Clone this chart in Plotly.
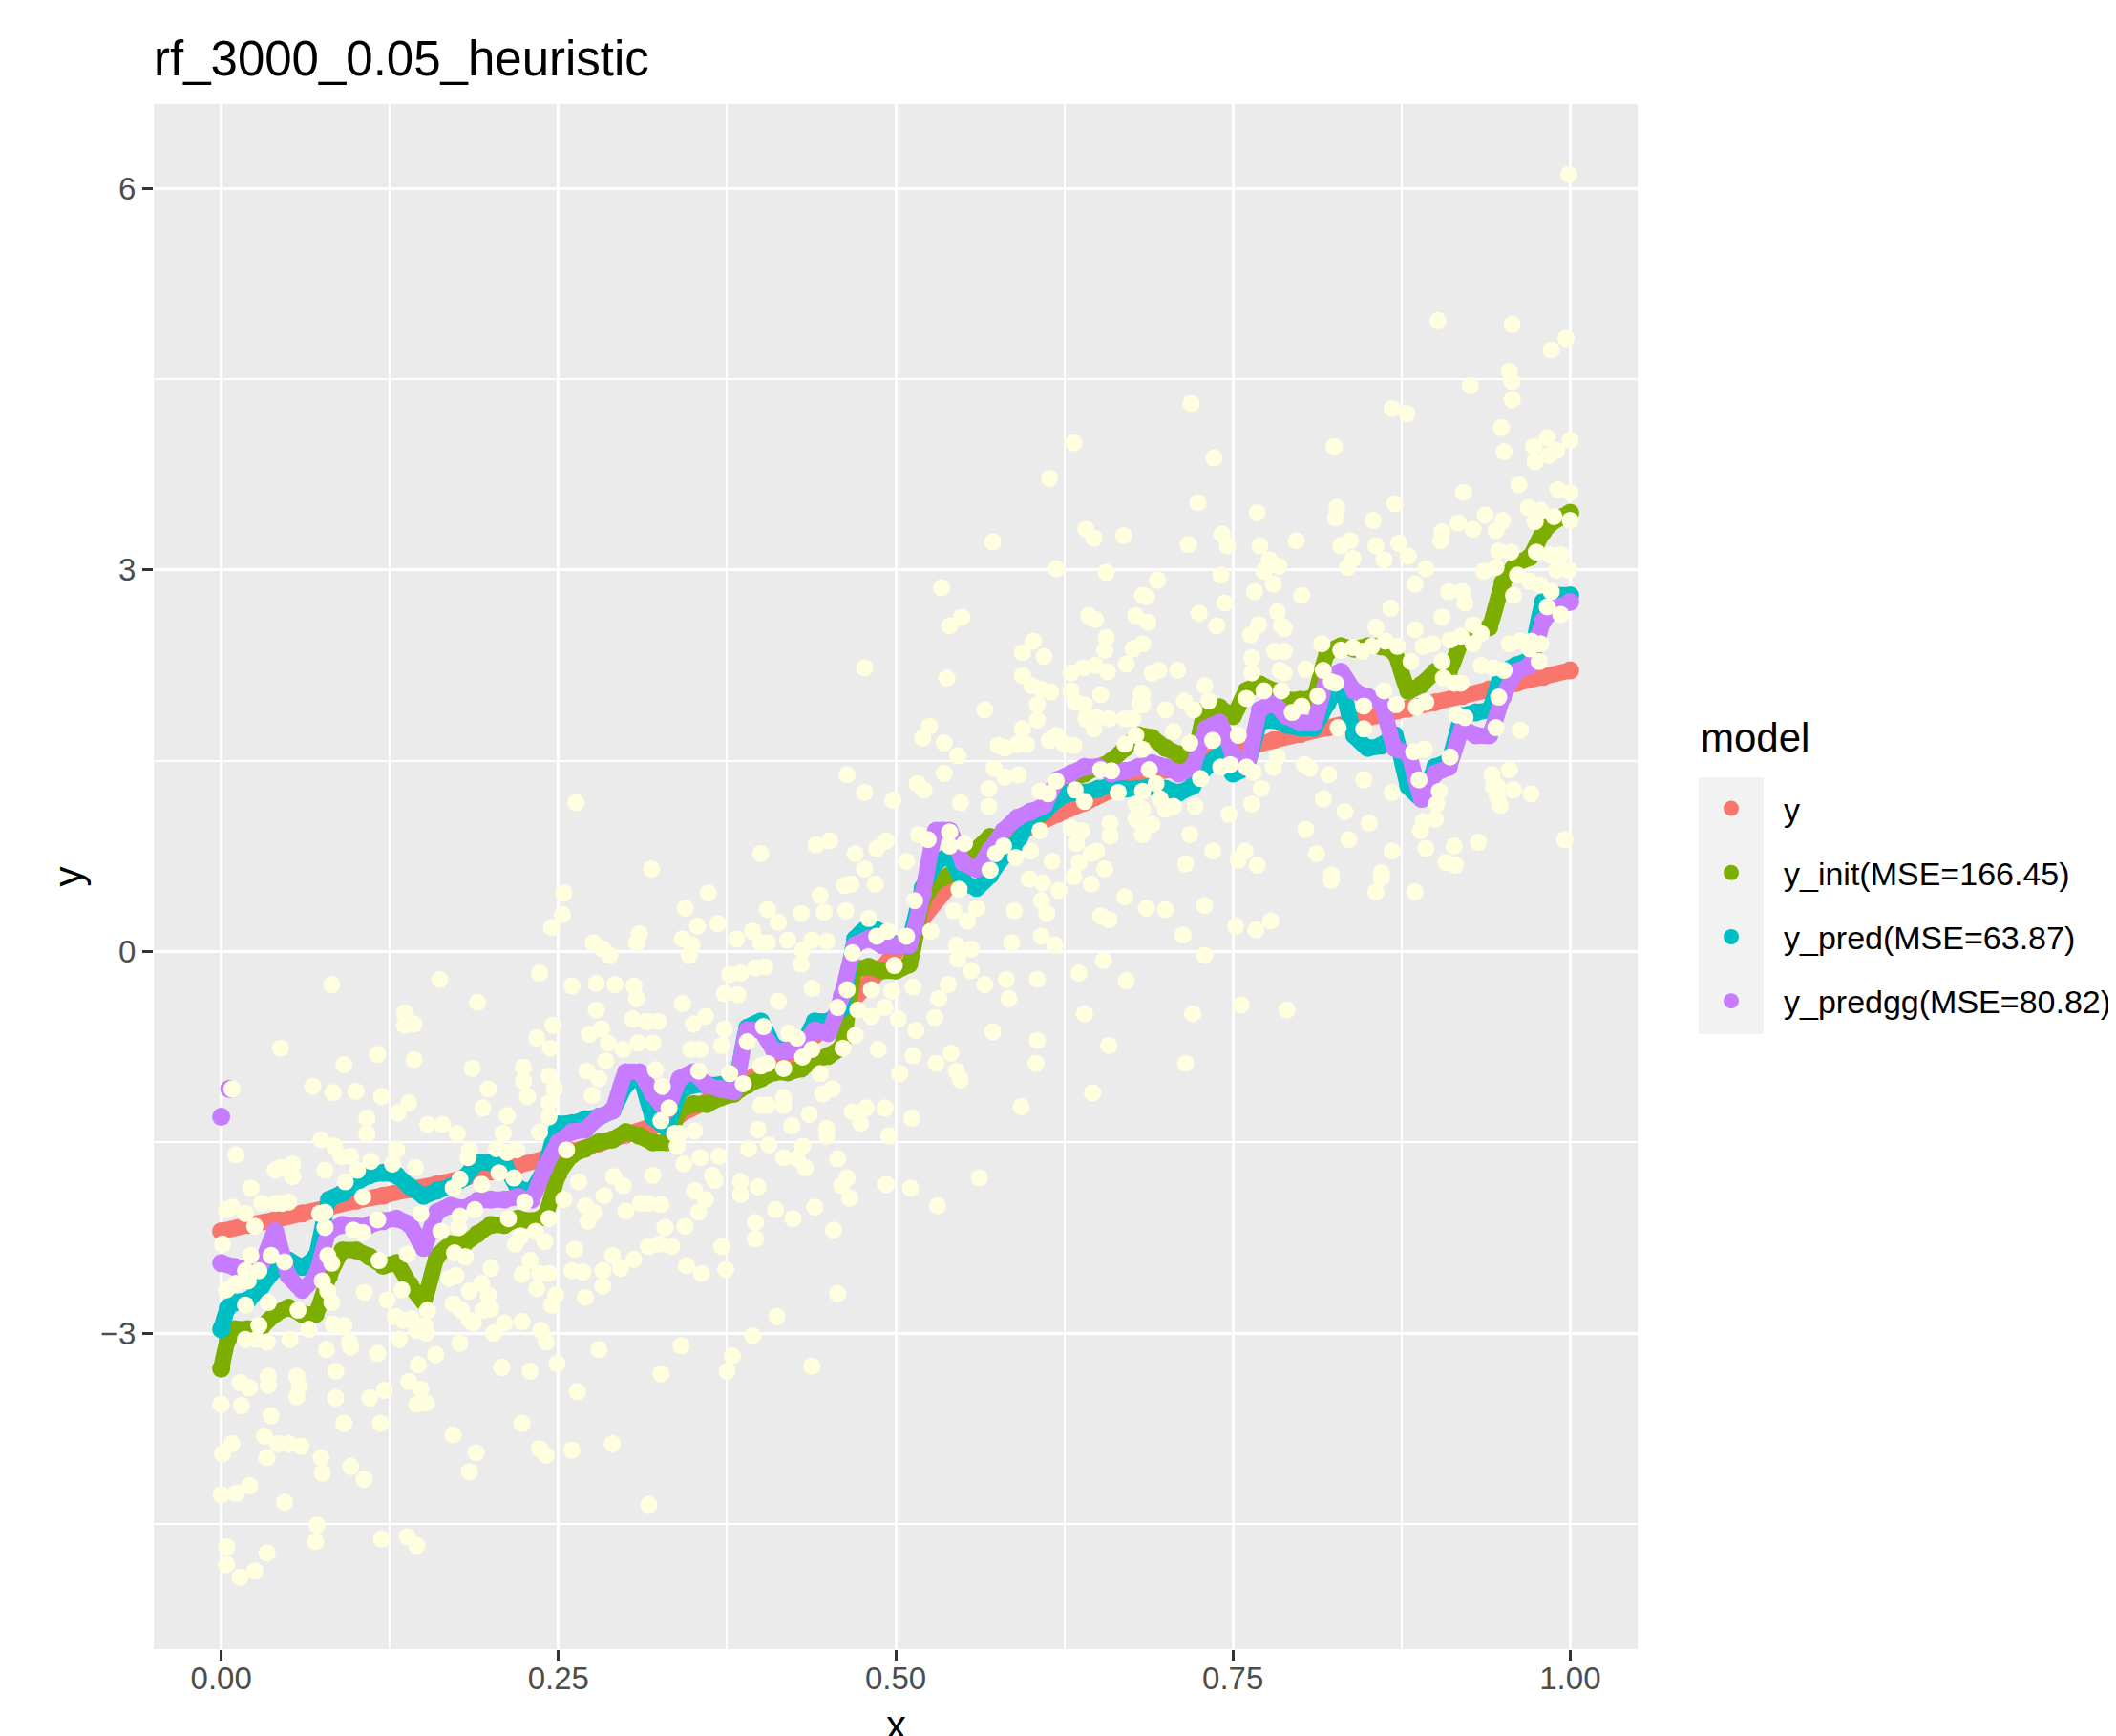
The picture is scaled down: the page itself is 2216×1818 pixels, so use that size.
import plotly.graph_objects as go

# ---------------- text ----------------
title_text = "rf_3000_0.05_heuristic"
legend_title = "model"
x_title = "x"
y_title = "y"
series_names = ["y", "y_init(MSE=166.45)", "y_pred(MSE=63.87)", "y_predgg(MSE=80.82)"]
series_colors = ["#F8766D", "#7CAE00", "#00BFC4", "#C77CFF"]
obs_color = "#FFFFE0"

x_ticks = [0.0, 0.25, 0.5, 0.75, 1.0]
x_tick_labels = ["0.00", "0.25", "0.50", "0.75", "1.00"]
x_minor = [0.125, 0.375, 0.625, 0.875]
y_ticks = [-3, 0, 3, 6]
y_tick_labels = ["\u22123", "0", "3", "6"]
y_minor = [-4.5, -1.5, 1.5, 4.5]

# ---------------- true function y ----------------
truth_x = [0.00, 0.02, 0.04, 0.06, 0.08, 0.10, 0.12, 0.14, 0.16, 0.18,
           0.20, 0.22, 0.24, 0.26, 0.28, 0.30, 0.32, 0.34, 0.36, 0.38,
           0.40, 0.42, 0.44, 0.46, 0.48, 0.50, 0.52, 0.54, 0.56, 0.58,
           0.60, 0.62, 0.64, 0.66, 0.68, 0.70, 0.72, 0.74, 0.76, 0.78,
           0.80, 0.82, 0.84, 0.86, 0.88, 0.90, 0.92, 0.94, 0.96, 0.98, 1.00]
truth_y = [-2.20, -2.15, -2.11, -2.06, -2.01, -1.96, -1.92, -1.87, -1.83, -1.78,
           -1.73, -1.68, -1.63, -1.57, -1.51, -1.44, -1.37, -1.28, -1.18, -1.07,
           -0.95, -0.82, -0.66, -0.47, -0.25, 0.00, 0.26, 0.52, 0.74, 0.88,
           0.98, 1.08, 1.17, 1.27, 1.36, 1.43, 1.49, 1.55, 1.60, 1.66,
           1.71, 1.76, 1.81, 1.86, 1.91, 1.96, 2.01, 2.06, 2.11, 2.16, 2.21]

# ---------------- common grid of predictions ----------------
grid_x = [0.00, 0.01, 0.02, 0.03, 0.04, 0.05, 0.06, 0.07, 0.08, 0.09,
          0.10, 0.11, 0.12, 0.13, 0.14, 0.15, 0.16, 0.17, 0.18, 0.19,
          0.20, 0.21, 0.22, 0.23, 0.24, 0.25, 0.26, 0.27, 0.28, 0.29,
          0.30, 0.31, 0.32, 0.33, 0.34, 0.35, 0.36, 0.37, 0.38, 0.39,
          0.40, 0.41, 0.42, 0.43, 0.44, 0.45, 0.46, 0.47, 0.48, 0.49,
          0.50, 0.51, 0.52, 0.53, 0.54, 0.55, 0.56, 0.57, 0.58, 0.59,
          0.60, 0.61, 0.62, 0.63, 0.64, 0.65, 0.66, 0.67, 0.68, 0.69,
          0.70, 0.71, 0.72, 0.73, 0.74, 0.75, 0.76, 0.77, 0.78, 0.79,
          0.80, 0.81, 0.82, 0.83, 0.84, 0.85, 0.86, 0.87, 0.88, 0.89,
          0.90, 0.91, 0.92, 0.93, 0.94, 0.95, 0.96, 0.97, 0.98, 0.99, 1.00]

# y_init: one extra point read near x = 0.005
init_extra_x = [0.005]
init_extra_y = [-3.05]
init_y = [-3.28, -2.97, -2.97, -2.95, -2.85, -2.80, -2.85, -2.85, -2.55, -2.35,
          -2.35, -2.40, -2.47, -2.45, -2.62, -2.75, -2.40, -2.30, -2.30, -2.22,
          -2.15, -2.15, -2.10, -2.12, -2.08, -1.75, -1.60, -1.55, -1.50, -1.48,
          -1.42, -1.45, -1.50, -1.50, -1.25, -1.20, -1.20, -1.15, -1.12, -1.05,
          -1.00, -0.95, -0.95, -0.92, -0.85, -0.82, -0.75, -0.15, -0.12, -0.15,
          -0.15, -0.10, 0.40, 0.55, 0.60, 0.62, 0.80, 0.90, 0.90, 0.95,
          1.00, 1.10, 1.20, 1.35, 1.40, 1.45, 1.50, 1.60, 1.70, 1.68,
          1.60, 1.55, 1.50, 1.90, 1.92, 1.85, 2.05, 2.10, 2.05, 1.98,
          1.98, 2.00, 2.35, 2.40, 2.38, 2.40, 2.40, 2.35, 2.05, 2.10,
          2.20, 2.20, 2.45, 2.50, 2.55, 2.90, 3.05, 3.10, 3.30, 3.40, 3.45]

pred_extra_x = [0.005]
pred_extra_y = [-2.80]
pred_y = [-2.97, -2.76, -2.74, -2.63, -2.50, -2.43, -2.48, -2.40, -1.95, -1.90,
          -1.82, -1.76, -1.74, -1.76, -1.85, -1.92, -1.88, -1.85, -1.78, -1.66,
          -1.66, -1.68, -1.86, -1.88, -1.70, -1.36, -1.35, -1.32, -1.30, -1.25,
          -1.05, -0.98, -1.30, -1.38, -1.10, -1.05, -1.05, -1.05, -1.08, -0.60,
          -0.55, -0.75, -0.78, -0.75, -0.55, -0.55, -0.45, 0.10, 0.20, 0.15,
          0.05, 0.10, 0.50, 0.70, 0.75, 0.55, 0.50, 0.60, 0.75, 0.85,
          1.05, 1.10, 1.20, 1.25, 1.25, 1.28, 1.30, 1.28, 1.28, 1.30,
          1.28, 1.25, 1.30, 1.45, 1.55, 1.40, 1.45, 1.80, 1.82, 1.78,
          1.76, 1.76, 1.95, 2.10, 1.70, 1.60, 1.62, 1.70, 1.30, 1.20,
          1.45, 1.50, 1.85, 1.88, 1.90, 2.20, 2.25, 2.30, 2.75, 2.80, 2.80]

# y_predgg: two isolated points near x = 0 (drawn apart from the band)
predgg_extra_x = [0.000, 0.006]
predgg_extra_y = [-1.30, -1.08]
predgg_y = [-2.45, -2.48, -2.49, -2.45, -2.20, -2.55, -2.66, -2.55, -2.20, -2.15,
            -2.16, -2.15, -2.12, -2.10, -2.15, -2.33, -2.05, -2.00, -2.02, -1.96,
            -1.95, -1.95, -1.93, -1.95, -1.70, -1.50, -1.42, -1.40, -1.30, -1.25,
            -0.95, -0.95, -1.12, -1.25, -1.00, -0.95, -1.05, -1.08, -1.10, -0.62,
            -0.62, -0.78, -0.78, -0.75, -0.62, -0.64, -0.35, 0.05, 0.10, 0.05,
            0.05, 0.05, 0.45, 0.95, 0.95, 0.70, 0.65, 0.80, 0.95, 1.05,
            1.10, 1.15, 1.35, 1.40, 1.45, 1.45, 1.40, 1.42, 1.45, 1.48,
            1.45, 1.40, 1.45, 1.75, 1.80, 1.55, 1.45, 1.90, 1.95, 1.85,
            1.80, 1.80, 2.15, 2.20, 2.05, 2.00, 1.95, 1.60, 1.55, 1.20,
            1.40, 1.45, 1.75, 1.70, 1.70, 2.00, 2.20, 2.25, 2.60, 2.70, 2.75]

# ---------------- observed data (x, y) ----------------
obs_left = [
    (0.254, 0.46), (0.253, 0.29), (0.245, 0.19), (0.310, 0.14), (0.308, 0.07), (0.276, 0.07),
    (0.283, 0.02), (0.288, -0.03), (0.082, -0.26), (0.162, -0.22), (0.236, -0.17), (0.190, -0.40),
    (0.136, -0.48), (0.136, -0.58), (0.143, -0.57), (0.260, -0.27), (0.278, -0.25), (0.292, -0.26),
    (0.306, -0.27), (0.308, -0.37), (0.278, -0.46), (0.246, -0.58), (0.234, -0.68), (0.244, -0.76),
    (0.273, -0.65), (0.282, -0.61), (0.287, -0.72), (0.298, -0.77), (0.305, -0.53), (0.315, -0.55),
    (0.309, -0.72), (0.044, -0.76), (0.116, -0.81), (0.143, -0.85), (0.091, -0.89), (0.186, -0.92),
    (0.224, -0.91), (0.224, -1.02), (0.227, -1.14), (0.243, -0.98), (0.247, -1.08), (0.243, -1.19),
    (0.243, -1.30), (0.271, -0.94), (0.280, -1.00), (0.285, -0.86), (0.068, -1.06), (0.083, -1.11),
    (0.100, -1.10), (0.119, -1.14), (0.198, -1.08), (0.194, -1.23), (0.212, -1.29), (0.275, -1.13),
    (0.108, -1.31), (0.108, -1.43), (0.131, -1.27), (0.139, -1.19), (0.153, -1.36), (0.164, -1.36),
    (0.175, -1.43), (0.209, -1.43), (0.236, -1.42), (0.074, -1.48), (0.011, -1.60), (0.008, -1.08),
    (0.040, -1.72), (0.044, -1.70), (0.053, -1.67), (0.053, -1.77), (0.077, -1.72), (0.084, -1.53),
    (0.089, -1.61), (0.096, -1.61), (0.101, -1.72), (0.111, -1.65), (0.127, -1.67), (0.130, -1.56),
    (0.092, -1.81), (0.144, -1.70), (0.022, -1.86), (0.183, -1.62), (0.184, -1.56), (0.204, -1.55),
    (0.212, -1.58), (0.219, -1.56), (0.206, -1.74), (0.217, -1.78), (0.256, -1.56), (0.265, -1.81),
    (0.291, -1.77), (0.298, -1.84), (0.254, -1.95), (0.270, -2.00), (0.276, -2.05), (0.272, -2.12),
    (0.284, -1.92), (0.300, -2.04), (0.311, -1.98), (0.262, -2.34), (0.290, -2.39), (0.296, -2.49),
    (0.306, -2.42), (0.317, -2.32), (0.260, -2.51), (0.268, -2.52), (0.283, -2.51), (0.270, -2.72),
    (0.283, -2.63), (0.223, -2.54), (0.234, -2.65), (0.229, -2.43), (0.236, -2.53), (0.243, -2.53),
    (0.248, -2.70), (0.245, -2.78), (0.200, -2.49), (0.173, -2.37), (0.181, -2.40), (0.169, -2.57),
    (0.174, -2.55), (0.184, -2.67), (0.193, -2.61), (0.198, -2.70), (0.172, -2.77), (0.178, -2.82),
    (0.184, -2.90), (0.194, -2.82), (0.200, -2.81), (0.187, -2.92), (0.202, -3.00), (0.210, -2.92),
    (0.223, -2.91), (0.237, -2.98), (0.241, -3.07), (0.249, -3.24), (0.208, -3.27), (0.229, -3.30),
    (0.223, -3.71), (0.236, -3.91), (0.241, -3.96), (0.260, -3.92), (0.290, -3.87), (0.264, -3.46),
    (0.280, -3.13), (0.317, -4.35), (0.172, -3.80), (0.189, -3.94), (0.184, -4.09), (0.177, -3.08),
    (0.159, -3.17), (0.151, -2.94), (0.152, -3.00), (0.153, -2.82), (0.146, -3.25), (0.148, -3.44),
    (0.145, -3.56), (0.152, -3.55), (0.139, -3.38), (0.138, -4.60), (0.145, -4.67), (0.119, -4.62),
    (0.118, -3.71), (0.121, -3.45), (0.110, -3.51), (0.116, -3.16), (0.132, -3.05), (0.123, -2.74),
    (0.129, -2.87), (0.135, -2.90), (0.141, -2.89), (0.145, -2.98), (0.134, -2.66), (0.117, -2.43),
    (0.106, -2.68), (0.096, -4.05), (0.106, -4.15), (0.091, -3.71), (0.085, -3.51), (0.085, -3.30),
    (0.095, -3.07), (0.096, -3.11), (0.078, -3.13), (0.091, -2.94), (0.082, -2.76), (0.074, -3.98),
    (0.075, -4.10), (0.071, -4.51), (0.070, -4.64), (0.065, -2.97), (0.057, -2.82), (0.051, -3.05),
    (0.056, -3.34), (0.058, -3.42), (0.056, -3.50), (0.059, -3.89), (0.050, -3.87), (0.042, -3.87),
    (0.047, -4.33), (0.037, -3.65), (0.034, -3.98), (0.032, -3.81), (0.035, -3.34), (0.035, -3.41),
    (0.034, -4.73), (0.025, -4.87), (0.014, -4.92), (0.004, -4.82), (0.004, -4.68), (0.021, -4.20),
    (0.011, -4.26), (0.000, -4.27), (0.008, -3.87), (0.001, -3.95), (0.000, -3.56), (0.015, -3.57),
    (0.014, -3.39), (0.021, -3.43), (0.026, -3.05), (0.018, -3.05), (0.034, -3.07), (0.028, -2.94),
    (0.035, -2.76), (0.018, -2.78), (0.004, -2.66), (0.011, -2.61), (0.020, -2.59), (0.022, -2.39),
    (0.018, -2.51), (0.028, -2.51), (0.037, -2.39), (0.047, -2.44), (0.001, -2.30), (0.004, -2.03),
    (0.008, -2.01), (0.018, -2.06), (0.025, -2.16), (0.030, -1.98), (0.040, -1.98), (0.045, -1.98),
    (0.050, -1.97), (0.073, -2.06), (0.077, -2.17), (0.077, -2.05), (0.079, -2.39), (0.082, -2.45),
    (0.075, -2.59), (0.079, -2.67), (0.083, -2.93), (0.098, -2.19), (0.105, -2.21), (0.105, -1.93),
    (0.116, -2.11), (0.138, -2.38), (0.148, -2.06), (0.163, -2.20), (0.177, -1.79), (0.172, -1.86),
    (0.177, -2.08), (0.176, -2.17), (0.188, -2.03), (0.193, -1.83), (0.213, -2.10), (0.225, -1.97),
    (0.218, -2.30), (0.222, -2.24), (0.233, -2.20), (0.240, -2.28), (0.243, -2.10), (0.263, 1.17),
]

obs_middle = [
    (0.361, 0.46), (0.344, 0.34), (0.353, 0.20), (0.368, 0.22), (0.342, 0.10), (0.349, 0.05),
    (0.347, -0.03), (0.405, 0.33), (0.413, 0.23), (0.430, 0.30), (0.447, 0.31), (0.444, 0.44),
    (0.463, 0.32), (0.467, 0.53), (0.462, 0.52), (0.485, 0.53), (0.394, 0.16), (0.382, 0.10),
    (0.400, 0.07), (0.405, 0.07), (0.420, 0.09), (0.431, 0.01), (0.438, 0.09), (0.449, 0.08),
    (0.430, -0.10), (0.396, -0.13), (0.403, -0.12), (0.377, -0.18), (0.385, -0.17), (0.383, -0.34),
    (0.373, -0.33), (0.438, -0.29), (0.413, -0.39), (0.342, -0.41), (0.359, -0.51), (0.350, -0.57),
    (0.324, -0.55), (0.317, -0.55), (0.373, -0.61), (0.371, -0.74), (0.348, -0.77), (0.355, -0.77),
    (0.320, -0.72), (0.322, -0.93), (0.327, -1.06), (0.354, -0.94), (0.377, -0.96), (0.390, -0.71),
    (0.402, -0.59), (0.421, -0.64), (0.427, -0.68), (0.417, -0.92), (0.431, -0.83), (0.438, -0.77),
    (0.400, -0.90), (0.405, -0.88), (0.387, -1.04), (0.400, -1.21), (0.405, -1.21), (0.398, -1.40),
    (0.417, -1.15), (0.417, -1.21), (0.423, -1.37), (0.436, -1.28), (0.444, -0.96), (0.446, -1.12),
    (0.453, -1.08), (0.461, -0.76), (0.457, -0.44), (0.464, -0.30), (0.470, -0.66), (0.468, -1.26),
    (0.478, -1.23), (0.474, -1.35), (0.492, -1.23), (0.512, -1.31), (0.495, -1.45), (0.449, -1.39),
    (0.449, -1.45), (0.457, -1.63), (0.464, -1.78), (0.460, -1.84), (0.466, -1.94), (0.493, -1.83),
    (0.511, -1.86), (0.531, -2.00), (0.562, -1.78), (0.454, -2.19), (0.440, -2.01), (0.424, -2.10),
    (0.411, -2.03), (0.396, -2.13), (0.396, -2.26), (0.371, -2.32), (0.374, -2.50), (0.356, -2.53),
    (0.345, -2.47), (0.344, -2.16), (0.354, -2.05), (0.359, -1.95), (0.351, -1.88), (0.364, -1.76),
    (0.366, -1.80), (0.385, -1.81), (0.385, -1.91), (0.398, -1.85), (0.406, -1.52), (0.391, -1.55),
    (0.417, -1.62), (0.427, -1.63), (0.433, -1.70), (0.431, -1.53), (0.326, -1.99), (0.320, -1.76),
    (0.317, -1.98), (0.317, -2.32), (0.329, -2.17), (0.325, -2.30), (0.334, -2.32), (0.338, -1.53),
    (0.343, -1.67), (0.355, -1.62), (0.369, -1.61), (0.340, -1.43), (0.351, -1.41), (0.332, -1.23),
    (0.326, -1.33), (0.336, -1.43), (0.457, -2.69), (0.412, -2.87), (0.394, -3.02), (0.341, -3.10),
    (0.379, -3.18), (0.375, -3.30), (0.326, -3.32), (0.438, -3.26), (0.502, -0.53), (0.503, -0.96),
    (0.487, -0.77), (0.482, -0.51), (0.492, -0.44), (0.515, -0.62), (0.513, -0.82), (0.530, -0.88),
    (0.541, -0.80), (0.545, -0.94), (0.548, -1.01), (0.532, -0.37), (0.529, -0.52), (0.539, -0.26),
    (0.556, -0.15), (0.566, -0.26), (0.572, -0.63), (0.582, -0.22), (0.584, -0.37), (0.605, -0.22),
    (0.604, -0.88), (0.593, -1.22), (0.605, -0.70), (0.636, -0.17), (0.640, -0.49), (0.646, -1.11),
    (0.654, -0.07), (0.658, -0.74), (0.671, -0.23), (0.618, 0.05), (0.608, 0.12), (0.586, 0.07),
    (0.546, -0.06), (0.556, 0.02), (0.545, 0.05), (0.588, 0.32), (0.608, 0.40), (0.612, 0.30),
    (0.621, 0.48), (0.609, 0.54), (0.599, 0.57), (0.645, 0.53), (0.652, 0.28), (0.658, 0.25),
    (0.670, 0.43), (0.632, 0.59), (0.526, 0.16), (0.513, -0.28), (0.497, -0.31), (0.482, -0.30),
    (0.480, 0.26), (0.494, 0.16), (0.486, 0.12), (0.472, -0.46), (0.468, -0.01), (0.499, -0.11),
    (0.508, 0.12), (0.514, 0.40), (0.547, 0.49), (0.553, 0.24), (0.560, 0.34), (0.543, 0.32),
    (0.632, 4.00), (0.614, 3.72), (0.572, 3.22), (0.641, 3.32), (0.647, 3.25), (0.669, 3.27),
    (0.619, 3.01), (0.656, 2.98), (0.534, 2.86), (0.683, 2.80), (0.549, 2.63), (0.540, 2.56),
    (0.643, 2.64), (0.648, 2.61), (0.678, 2.64), (0.656, 2.47), (0.655, 2.37), (0.602, 2.44),
    (0.594, 2.35), (0.610, 2.32), (0.676, 2.38), (0.671, 2.26), (0.477, 2.23), (0.538, 2.15),
    (0.594, 2.17), (0.601, 2.09), (0.608, 2.06), (0.615, 2.04), (0.630, 2.19), (0.639, 2.23),
    (0.648, 2.25), (0.657, 2.20), (0.630, 2.05), (0.633, 1.96), (0.652, 2.02), (0.605, 1.94),
    (0.566, 1.90), (0.682, 2.03), (0.681, 1.95), (0.640, 1.94), (0.649, 1.84), (0.658, 1.83),
    (0.641, 1.83), (0.670, 1.83), (0.676, 1.83), (0.594, 1.75), (0.605, 1.82), (0.647, 1.75),
    (0.525, 1.77), (0.520, 1.68), (0.536, 1.64), (0.546, 1.54), (0.576, 1.62), (0.581, 1.60),
    (0.590, 1.63), (0.597, 1.63), (0.614, 1.66), (0.619, 1.70), (0.625, 1.63), (0.632, 1.62),
    (0.670, 1.63), (0.678, 1.70), (0.464, 1.39), (0.477, 1.25), (0.498, 1.19), (0.516, 1.32),
    (0.521, 1.27), (0.536, 1.40), (0.573, 1.44), (0.581, 1.37), (0.591, 1.39), (0.569, 1.28),
    (0.569, 1.14), (0.548, 1.17), (0.607, 1.26), (0.613, 1.24), (0.619, 1.34), (0.633, 1.27),
    (0.640, 1.18), (0.652, 1.43), (0.660, 1.42), (0.665, 1.25), (0.678, 1.16), (0.678, 1.04),
    (0.683, 0.92), (0.659, 1.01), (0.659, 0.91), (0.649, 0.79), (0.645, 0.77), (0.616, 0.71),
    (0.630, 0.97), (0.638, 0.95), (0.634, 0.85), (0.607, 0.95), (0.600, 0.79), (0.589, 0.74),
    (0.574, 0.77), (0.580, 0.83), (0.570, 0.64), (0.636, 0.70), (0.655, 0.65), (0.551, 0.85),
    (0.540, 0.94), (0.540, 0.83), (0.524, 0.88), (0.517, 0.92), (0.508, 0.71), (0.493, 0.87),
    (0.486, 0.81), (0.470, 0.77), (0.477, 0.65), (0.451, 0.87), (0.441, 0.84), (0.400, 0.77),
    (0.319, 0.65),
]

obs_right = [
    (0.999, 6.11), (0.902, 4.96), (0.957, 4.93), (0.986, 4.73), (0.997, 4.82), (0.955, 4.56),
    (0.957, 4.48), (0.926, 4.45), (0.957, 4.34), (0.719, 4.31), (0.868, 4.27), (0.879, 4.23),
    (0.949, 4.12), (0.951, 3.93), (0.973, 3.97), (0.983, 4.04), (0.990, 3.94), (0.974, 3.85),
    (0.984, 3.90), (1.000, 4.02), (0.825, 3.97), (0.736, 3.88), (0.962, 3.67), (0.921, 3.61),
    (0.991, 3.63), (1.000, 3.61), (0.724, 3.53), (0.870, 3.52), (0.768, 3.45), (0.827, 3.49),
    (0.826, 3.41), (0.854, 3.39), (0.917, 3.37), (0.928, 3.32), (0.937, 3.43), (0.945, 3.31),
    (0.950, 3.39), (0.969, 3.49), (0.978, 3.47), (0.974, 3.38), (0.988, 3.42), (1.000, 3.39),
    (0.717, 3.20), (0.746, 3.19), (0.742, 3.28), (0.770, 3.19), (0.797, 3.23), (0.830, 3.19),
    (0.837, 3.23), (0.856, 3.19), (0.873, 3.21), (0.905, 3.30), (0.904, 3.23), (0.862, 3.08),
    (0.880, 3.11), (0.839, 3.09), (0.835, 3.02), (0.777, 3.08), (0.784, 3.03), (0.773, 2.99),
    (0.780, 2.89), (0.893, 3.01), (0.947, 3.15), (0.956, 3.14), (0.936, 2.99), (0.945, 3.02),
    (0.975, 3.14), (0.985, 3.12), (0.993, 3.12), (0.961, 2.96), (0.970, 2.91), (0.978, 2.88),
    (0.986, 2.83), (0.990, 3.00), (0.999, 3.00), (0.958, 2.80), (0.922, 2.74), (0.920, 2.83),
    (0.910, 2.83), (0.694, 2.92), (0.741, 2.96), (0.686, 2.79), (0.766, 2.83), (0.801, 2.80),
    (0.885, 2.89), (0.725, 2.66), (0.744, 2.74), (0.783, 2.67), (0.786, 2.56), (0.788, 2.54),
    (0.687, 2.59), (0.738, 2.56), (0.769, 2.57), (0.867, 2.70), (0.905, 2.63), (0.928, 2.57),
    (0.934, 2.50), (0.885, 2.53), (0.856, 2.55), (0.983, 2.71), (0.993, 2.65), (0.683, 2.42),
    (0.763, 2.49), (0.764, 2.31), (0.781, 2.36), (0.788, 2.36), (0.816, 2.42), (0.830, 2.37),
    (0.839, 2.39), (0.846, 2.36), (0.853, 2.40), (0.863, 2.44), (0.872, 2.40), (0.882, 2.28),
    (0.891, 2.40), (0.898, 2.42), (0.911, 2.45), (0.919, 2.48), (0.928, 2.42), (0.955, 2.42),
    (0.963, 2.44), (0.971, 2.44), (0.690, 2.19), (0.695, 2.21), (0.709, 2.21), (0.764, 2.19),
    (0.785, 2.21), (0.788, 2.19), (0.804, 2.22), (0.817, 2.21), (0.826, 2.11), (0.905, 2.28),
    (0.906, 2.15), (0.934, 2.25), (0.943, 2.23), (0.951, 2.21), (0.977, 2.28), (0.683, 2.02),
    (0.683, 1.94), (0.700, 1.90), (0.706, 1.73), (0.714, 1.97), (0.721, 1.90), (0.729, 2.09),
    (0.732, 1.97), (0.718, 1.64), (0.735, 1.66), (0.754, 1.70), (0.760, 1.99), (0.773, 2.05),
    (0.786, 2.05), (0.794, 1.88), (0.801, 1.93), (0.813, 2.01), (0.823, 2.12), (0.828, 1.76),
    (0.847, 1.93), (0.862, 2.05), (0.871, 1.94), (0.886, 1.92), (0.893, 1.96), (0.914, 2.11),
    (0.919, 2.11), (0.947, 2.00), (0.945, 1.76), (0.963, 1.74), (0.916, 1.86), (0.922, 1.84),
    (0.847, 1.75), (0.683, 1.59), (0.688, 1.43), (0.693, 1.32), (0.696, 1.20), (0.683, 1.26),
    (0.683, 1.12), (0.683, 1.00), (0.700, 1.12), (0.706, 1.14), (0.722, 1.14), (0.726, 1.36),
    (0.718, 0.92), (0.690, 1.00), (0.741, 1.45), (0.748, 1.47), (0.760, 1.45), (0.765, 1.41),
    (0.771, 1.28), (0.764, 1.16), (0.747, 1.08), (0.759, 0.79), (0.754, 0.72), (0.768, 0.68),
    (0.735, 0.79), (0.715, 0.69), (0.783, 1.53), (0.780, 1.45), (0.803, 1.47), (0.807, 1.44),
    (0.821, 1.39), (0.817, 1.20), (0.804, 0.96), (0.812, 0.77), (0.833, 1.10), (0.836, 0.88),
    (0.847, 1.35), (0.851, 1.01), (0.868, 1.25), (0.868, 0.79), (0.823, 0.60), (0.860, 0.62),
    (0.884, 1.57), (0.888, 1.35), (0.892, 1.59), (0.903, 1.26), (0.901, 1.16), (0.891, 1.02),
    (0.889, 0.95), (0.900, 1.04), (0.893, 0.81), (0.914, 0.83), (0.908, 0.70), (0.915, 0.68),
    (0.932, 0.86), (0.911, 1.53), (0.942, 1.39), (0.946, 1.30), (0.943, 1.30), (0.948, 1.15),
    (0.946, 1.22), (0.955, 1.43), (0.958, 1.27), (0.971, 1.24), (0.996, 0.88), (0.970, 2.38),
    (0.978, 2.42), (0.686, 0.34), (0.700, 0.33), (0.729, 0.36), (0.713, 0.13), (0.752, 0.20),
    (0.767, 0.17), (0.778, 0.24), (0.729, -0.03), (0.823, 0.56), (0.860, 0.58), (0.856, 0.47),
    (0.885, 0.47), (0.720, -0.49), (0.756, -0.42), (0.790, -0.46), (0.715, -0.88),
]

# ---------------- figure geometry ----------------
# The page body has an 8 px margin, so the figure is 8 px smaller than the window
W, H = 2208, 1810
ML, MR, MT, MB = 153, 501, 101, 91
PW, PH = W - ML - MR, H - MT - MB


def px_to_paper_x(px):
    return (px - ML) / PW


def px_to_paper_y(py):
    return (H - MB - py) / PH


fig = go.Figure()

series = [
    (truth_x, truth_y, [], []),
    (grid_x, init_y, init_extra_x, init_extra_y),
    (grid_x, pred_y, pred_extra_x, pred_extra_y),
    (grid_x, predgg_y, predgg_extra_x, predgg_extra_y),
]

for i, (sx, sy, ex, ey) in enumerate(series):
    name, color = series_names[i], series_colors[i]
    band_x = list(sx)
    band_y = list(sy)
    if i in (1, 2):
        band_x = [sx[0]] + ex + list(sx[1:])
        band_y = [sy[0]] + ey + list(sy[1:])
    fig.add_trace(go.Scatter(
        x=band_x, y=band_y, mode="lines",
        line=dict(color=color, width=17, shape="spline", smoothing=0.4),
        showlegend=False, hoverinfo="skip", legendgroup=name))
    fig.add_trace(go.Scatter(
        x=list(ex) + list(sx), y=list(ey) + list(sy), mode="markers",
        marker=dict(color=color, size=19, line=dict(width=0)),
        name=name, legendgroup=name, showlegend=True))

obs_all = obs_left + obs_middle + obs_right
fig.add_trace(go.Scatter(
    x=[p[0] for p in obs_all], y=[p[1] for p in obs_all], mode="markers",
    marker=dict(color=obs_color, size=18, line=dict(width=0)),
    showlegend=False, hoverinfo="skip", name="data"))

font_family = "Liberation Sans, Arial, Helvetica, sans-serif"

fig.update_layout(
    width=W, height=H,
    paper_bgcolor="white", plot_bgcolor="#EBEBEB",
    margin=dict(l=ML, r=MR, t=MT, b=MB, autoexpand=False),
    font=dict(family=font_family, color="black"),
    title=dict(text=title_text, xref="paper", x=0, xanchor="left",
               yref="container", y=1 - 53 / H, yanchor="middle",
               font=dict(size=51, color="black", family=font_family)),
    xaxis=dict(range=[-0.05, 1.05], tickmode="array", tickvals=x_ticks, ticktext=x_tick_labels,
               showgrid=True, gridcolor="white", gridwidth=3, zeroline=False, showline=False,
               ticks="outside", ticklen=11, tickwidth=3, tickcolor="#333333",
               ticklabelstandoff=-10,
               tickfont=dict(size=33, color="#4D4D4D"),
               minor=dict(tickvals=x_minor, showgrid=True, gridcolor="white", gridwidth=1.5, ticks="")),
    yaxis=dict(range=[-5.485, 6.663], tickmode="array", tickvals=y_ticks, ticktext=y_tick_labels,
               showgrid=True, gridcolor="white", gridwidth=3, zeroline=False, showline=False,
               ticks="outside", ticklen=11, tickwidth=3, tickcolor="#333333",
               tickfont=dict(size=33, color="#4D4D4D"),
               minor=dict(tickvals=y_minor, showgrid=True, gridcolor="white", gridwidth=1.5, ticks=""),
               title=dict(text=y_title, font=dict(size=42, color="black"), standoff=5)),
    legend=dict(x=px_to_paper_x(1750), xanchor="left", y=px_to_paper_y(810), yanchor="top",
                bgcolor="rgba(0,0,0,0)", font=dict(size=34, color="black"),
                tracegroupgap=20, itemsizing="trace", itemwidth=100),
    showlegend=True,
)

# x-axis title, placed at the bottom edge as in the original (partly cut off there)
fig.add_annotation(text=x_title, xref="paper", yref="paper",
                   x=0.5, y=px_to_paper_y(1798), xanchor="center", yanchor="middle",
                   showarrow=False, font=dict(size=42, color="black", family=font_family))

# legend title
fig.add_annotation(text=legend_title, xref="paper", yref="paper",
                   x=px_to_paper_x(1771), y=px_to_paper_y(765),
                   xanchor="left", yanchor="middle", showarrow=False,
                   font=dict(size=42, color="black", family=font_family))

# grey background behind the legend keys
fig.add_shape(type="rect", xref="paper", yref="paper",
              x0=px_to_paper_x(1771), x1=px_to_paper_x(1839),
              y0=px_to_paper_y(1075), y1=px_to_paper_y(806),
              fillcolor="#F2F2F2", line=dict(width=0), layer="below")

fig.write_html("out.html")
